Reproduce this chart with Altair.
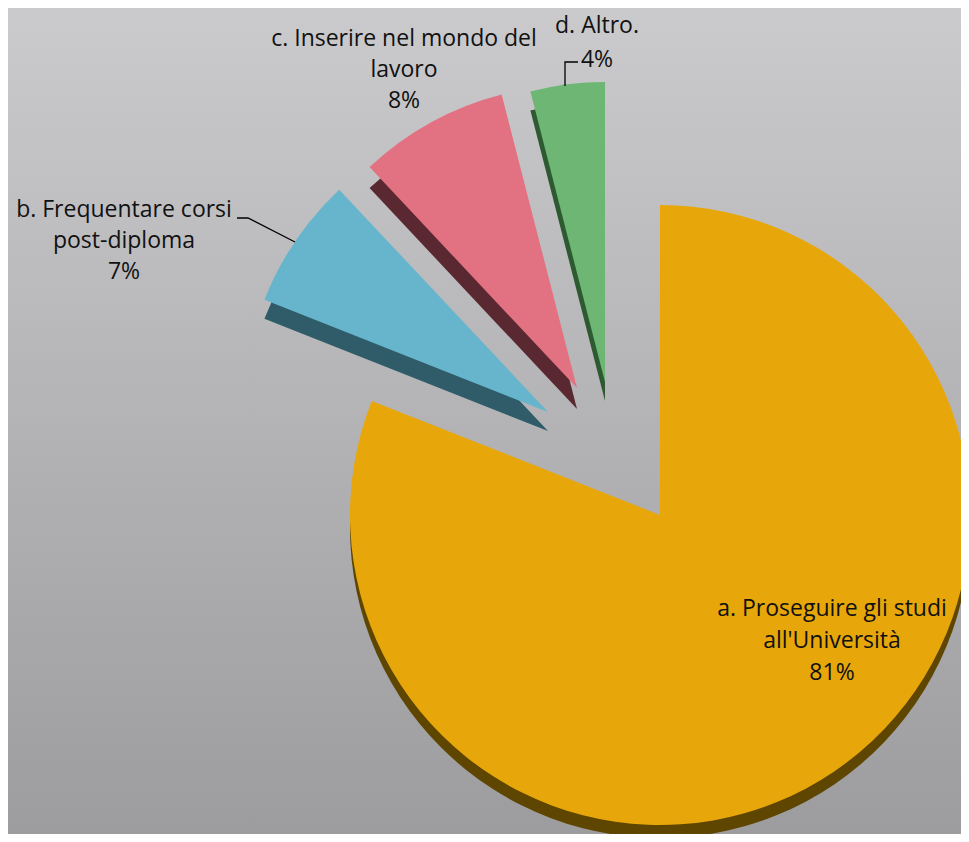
import altair as alt
import pandas as pd

# ---- data ----
keys = ["a", "b", "c", "d"]
labels = [
    "a. Proseguire gli studi\nall'Università\n81%",
    "b. Frequentare corsi\npost-diploma\n7%",
    "c. Inserire nel mondo del\nlavoro\n8%",
    "d. Altro.\n4%",
]
values = [81, 7, 8, 4]

# ---- style ----
W, H = 953, 826
radius = {"a": 310, "b": 305, "c": 303, "d": 300}
top_colors = {"a": "#E7A70B", "b": "#66B5CC", "c": "#E27282", "d": "#6DB673"}
side_colors = {"a": "#5E4500", "b": "#2F5C68", "c": "#5A2830", "d": "#2E5A31"}
centers = {"a": (652, 507), "b": (540, 404), "c": (569, 380), "d": (597, 374)}
depth = {"a": 13, "b": 19, "c": 21, "d": 19}
label_pos = {"a": (824, 590, 32), "b": (116, 191, 31), "c": (396, 20, 31), "d": (589, 7, 34)}
leader_b = {"x": [229, 240, 287], "y": [210, 210, 234]}
leader_d = {"x": [570, 557, 557], "y": [54, 54, 78]}

df = pd.DataFrame({"key": keys, "label": labels, "value": values})
base = alt.Chart(df).transform_joinaggregate(
    total="sum(value)"
).transform_window(
    cum="sum(value)", frame=[None, 0]
).transform_calculate(
    end="datum.cum / datum.total * 2 * PI",
    start="(datum.cum - datum.value) / datum.total * 2 * PI",
)

bg = alt.Chart(alt.Data(values=[{}])).mark_rect(
    color=alt.Gradient(
        gradient="linear",
        stops=[alt.GradientStop(color="#CBCBCD", offset=0),
               alt.GradientStop(color="#9C9C9E", offset=1)],
        x1=0, x2=0, y1=0, y2=1,
    )
).encode(x=alt.value(-10), x2=alt.value(W + 10), y=alt.value(-10), y2=alt.value(H + 10))

layers = [bg]
order = ["a", "b", "c", "d"]
for k in order:
    cx, cy = centers[k]
    sub = base.transform_filter(alt.datum.key == k)
    side = sub.mark_arc(radius=radius[k], x=cx, y=cy + depth[k], color=side_colors[k]).encode(
        theta=alt.Theta("start:Q", scale=None), theta2="end:Q"
    )
    top = sub.mark_arc(radius=radius[k], x=cx, y=cy, color=top_colors[k]).encode(
        theta=alt.Theta("start:Q", scale=None), theta2="end:Q"
    )
    layers += [side, top]

for ld in (leader_b, leader_d):
    ldf = pd.DataFrame({"x": ld["x"], "y": ld["y"], "i": list(range(len(ld["x"])))})
    layers.append(
        alt.Chart(ldf).mark_line(color="black", strokeWidth=1.3).encode(
            x=alt.X("x:Q", scale=None, axis=None),
            y=alt.Y("y:Q", scale=None, axis=None),
            order="i:Q",
        )
    )

for k in order:
    lx, ly, lh = label_pos[k]
    layers.append(
        base.transform_filter(alt.datum.key == k).mark_text(
            x=lx, y=ly, align="center", baseline="top", lineBreak="\n",
            lineHeight=lh, font="Open Sans", fontSize=23, color="#111111",
        ).encode(text="label:N")
    )

chart = alt.layer(*layers).properties(
    width=W, height=H, padding=0, autosize=alt.AutoSizeParams(type="none")
).configure_view(strokeWidth=0).configure(background="#C4C4C6")

chart.save("out.html", embed_options={"renderer": "svg", "actions": False})
